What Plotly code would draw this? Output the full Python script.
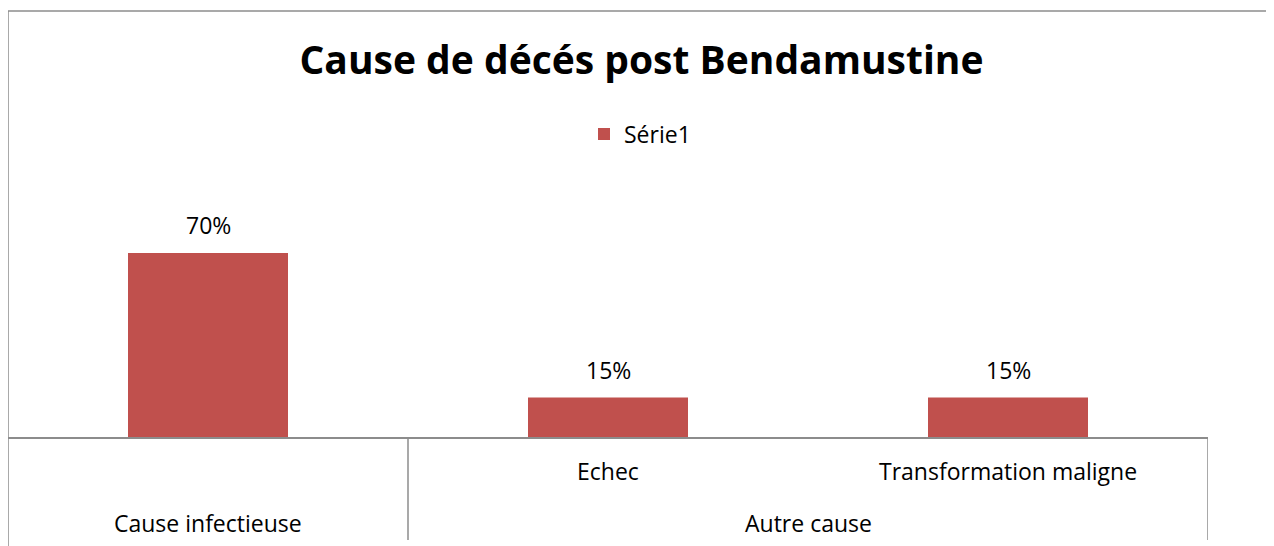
import plotly.graph_objects as go

# ---- data ----
categories = ["Cause infectieuse", "Echec", "Transformation maligne"]
groups = ["Cause infectieuse", "Autre cause", "Autre cause"]
values = [0.70, 0.15, 0.15]
series_name = "Série1"
title_text = "Cause de décés post Bendamustine"

BAR_COLOR = "#C0504D"
LINE_COLOR = "#8C8C8C"
FONT = "Open Sans"

# page body has an 8px default margin -> figure origin sits at (8, 8)
OFF = 8
W, H = 1274 - OFF, 546 - OFF
PLOT_L, PLOT_R, PLOT_T, PLOT_B = 8, 1208, 174, 437  # reference page pixels
ML = PLOT_L - OFF
MR = W - (PLOT_R - OFF)
MT = PLOT_T - OFF
MB = H - (PLOT_B - OFF)
plot_h = PLOT_B - PLOT_T
plot_w = PLOT_R - PLOT_L

def py(px):
    """reference page pixel y -> paper y"""
    return (PLOT_B - px) / plot_h

def pxp(px):
    """reference page pixel x -> paper x"""
    return (px - PLOT_L) / plot_w

xs = list(range(len(categories)))

fig = go.Figure()
fig.add_trace(go.Bar(
    x=xs, y=values, name=series_name, width=0.4,
    marker=dict(color=BAR_COLOR, line=dict(width=0)),
    showlegend=True,
))

annotations = []
for x, v in zip(xs, values):
    annotations.append(dict(
        x=x, y=v, xref="x", yref="y", text=f"{round(v*100)}%",
        showarrow=False, yanchor="bottom", yshift=10,
        font=dict(family=FONT, size=23, color="black"),
    ))

for x, c, g in zip(xs, categories, groups):
    if c != g:
        annotations.append(dict(
            x=x, y=py(471), xref="x", yref="paper", text=c,
            showarrow=False, yanchor="middle",
            font=dict(family=FONT, size=23, color="black"),
        ))

seen = []
for g in groups:
    if g in seen:
        continue
    seen.append(g)
    idx = [i for i, gg in enumerate(groups) if gg == g]
    cx = (idx[0] + idx[-1]) / 2
    annotations.append(dict(
        x=cx, y=py(523), xref="x", yref="paper", text=g,
        showarrow=False, yanchor="middle",
        font=dict(family=FONT, size=23, color="black"),
    ))

shapes = []
line = dict(color=LINE_COLOR, width=1.5)
shapes.append(dict(type="line", xref="paper", yref="paper",
                   x0=0, x1=pxp(1300), y0=py(11), y1=py(11), line=line))
shapes.append(dict(type="line", xref="paper", yref="paper",
                   x0=0, x1=0, y0=py(11), y1=py(560), line=line))
bounds = [-0.5]
for i in range(1, len(groups)):
    if groups[i] != groups[i - 1]:
        bounds.append(i - 0.5)
bounds.append(len(groups) - 0.5)
for b in bounds[1:]:
    shapes.append(dict(type="line", xref="x", yref="paper",
                       x0=b, x1=b, y0=0, y1=py(540), line=line))

fig.update_layout(
    width=W, height=H,
    margin=dict(l=ML, r=MR, t=MT, b=MB, pad=0),
    paper_bgcolor="white", plot_bgcolor="white",
    title=dict(text=f"<b>{title_text}</b>", x=(641.5 - OFF) / W, xanchor="center",
               y=1 - (60 - OFF) / H, yanchor="middle", yref="container",
               font=dict(family=FONT, size=39, color="black")),
    legend=dict(orientation="h", x=pxp(640), xanchor="center",
                y=py(134), yanchor="middle",
                font=dict(family=FONT, size=23, color="black"),
                bgcolor="rgba(0,0,0,0)"),
    xaxis=dict(range=[-0.5, len(categories) - 0.5], showticklabels=False,
               showgrid=False, zeroline=False, showline=True,
               linecolor=LINE_COLOR, linewidth=1.5, ticks=""),
    yaxis=dict(range=[0, 1], visible=False, showgrid=False, zeroline=False),
    annotations=annotations,
    shapes=shapes,
    bargap=0.6,
)

fig.write_html("out.html")
